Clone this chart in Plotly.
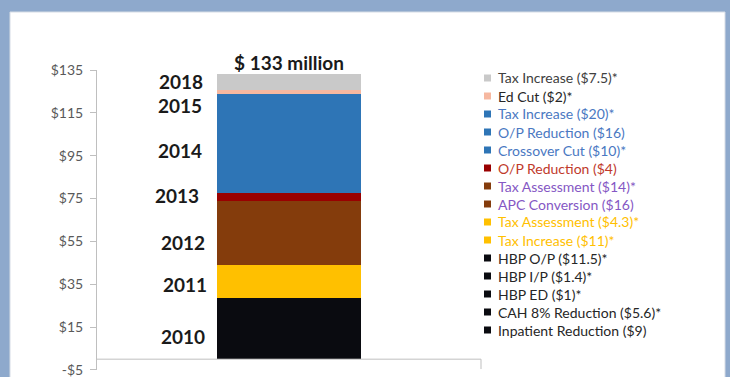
import plotly.graph_objects as go

# Data (bottom of stack -> top)
names = [
    "Inpatient Reduction ($9)",
    "CAH 8% Reduction ($5.6)*",
    "HBP ED ($1)*",
    "HBP I/P ($1.4)*",
    "HBP O/P ($11.5)*",
    "Tax Increase ($11)*",
    "Tax Assessment ($4.3)*",
    "APC Conversion ($16)",
    "Tax Assessment ($14)*",
    "O/P Reduction ($4)",
    "Crossover Cut ($10)*",
    "O/P Reduction ($16)",
    "Tax Increase ($20)*",
    "Ed Cut ($2)*",
    "Tax Increase ($7.5)*",
]
values = [9, 5.6, 1, 1.4, 11.5, 11, 4.3, 16, 14, 4, 10, 16, 20, 2, 7.5]
bar_colors = [
    "#0A0B10", "#0A0B10", "#0A0B10", "#0A0B10", "#0A0B10",
    "#FFC000", "#FFC000",
    "#843C0C", "#843C0C",
    "#990000",
    "#2E75B6", "#2E75B6", "#2E75B6",
    "#F6B8A0",
    "#C9C9C9",
]
text_colors = [
    "#262626", "#262626", "#262626", "#262626", "#262626",
    "#FFC000", "#FFC000",
    "#8557C4", "#8557C4",
    "#C0392B",
    "#4A78C2", "#4A78C2", "#4A78C2",
    "#262626",
    "#404040",
]
years = ["2010", "2011", "2012", "2013", "2014", "2015", "2018"]
year_label_y = [10.8, 34.7, 54.3, 76.3, 97.6, 118.2, 129.6]
year_label_xpx = [207, 209, 207, 201, 204, 204, 205]
tick_vals = [-5, 15, 35, 55, 75, 95, 115, 135]
tick_text = ["-$5", "$15", "$35", "$55", "$75", "$95", "$115", "$135"]

FONT = "Lato"
L, T, PW, PH = 97, 70, 384, 300
W, H = 730, 377

def px_x(x):
    return (x - L) / PW

def px_y(y):
    return (T + PH - y) / PH

fig = go.Figure()
for n, v, c in zip(names, values, bar_colors):
    fig.add_trace(go.Bar(
        x=["Total"], y=[v], name=n, marker=dict(color=c, line=dict(width=0)),
        width=0.375, showlegend=False, hoverinfo="name+y",
    ))

shapes = []
annotations = []
# white panel
shapes.append(dict(type="rect", xref="paper", yref="paper",
                   x0=px_x(10), x1=px_x(725), y0=px_y(395), y1=px_y(12),
                   fillcolor="white", line=dict(color="#D6DCE5", width=1), layer="below"))
# x axis line at 0 and right tick
shapes.append(dict(type="line", xref="paper", yref="y", x0=0, x1=1, y0=0, y1=0,
                   line=dict(color="#BFBFBF", width=1)))
shapes.append(dict(type="line", xref="paper", yref="y", x0=1, x1=1, y0=0, y1=-4.6,
                   line=dict(color="#BFBFBF", width=1)))

# manual legend (top item = last trace)
for i, idx in enumerate(reversed(range(len(names)))):
    ypx = 78 + 18 * i
    shapes.append(dict(type="rect", xref="paper", yref="paper",
                       x0=px_x(484), x1=px_x(491), y0=px_y(ypx + 3.5), y1=px_y(ypx - 3.5),
                       fillcolor=bar_colors[idx], line=dict(width=0)))
    annotations.append(dict(xref="paper", yref="paper", x=px_x(496), y=px_y(ypx),
                            xanchor="left", yanchor="middle", showarrow=False,
                            text=names[idx],
                            font=dict(family=FONT, size=14, color=text_colors[idx])))

# year labels
for yr, yv, xp in zip(years, year_label_y, year_label_xpx):
    annotations.append(dict(xref="paper", yref="y", x=px_x(xp), y=yv,
                            xanchor="right", yanchor="middle", showarrow=False,
                            text=f"<b>{yr}</b>",
                            font=dict(family=FONT, size=19, color="#1A1A1A")))

total = sum(values)
annotations.append(dict(xref="paper", yref="paper", x=0.5, y=px_y(63),
                        xanchor="center", yanchor="middle", showarrow=False,
                        text=f"<b>$ {round(total)} million</b>",
                        font=dict(family=FONT, size=19, color="#1A1A1A")))

fig.update_layout(
    width=W, height=H,
    margin=dict(l=L, r=W - L - PW, t=T, b=H - T - PH, pad=0, autoexpand=False),
    paper_bgcolor="#8EA9CC", plot_bgcolor="white",
    barmode="stack", bargap=0,
    shapes=shapes, annotations=annotations,
    xaxis=dict(type="category", range=[-0.5, 0.5], showticklabels=False,
               showline=False, showgrid=False, zeroline=False, ticks="",
               automargin=False),
    yaxis=dict(range=[-5.05, 135], tickvals=tick_vals, ticktext=tick_text,
               showline=True, linecolor="#BFBFBF", linewidth=1,
               ticks="outside", ticklen=6, tickcolor="#BFBFBF",
               showgrid=False, zeroline=False, ticklabelstandoff=4,
               ticklabeloverflow="allow", automargin=False,
               tickfont=dict(family=FONT, size=14, color="#595959")),
    showlegend=False,
)

fig.write_html("out.html")
